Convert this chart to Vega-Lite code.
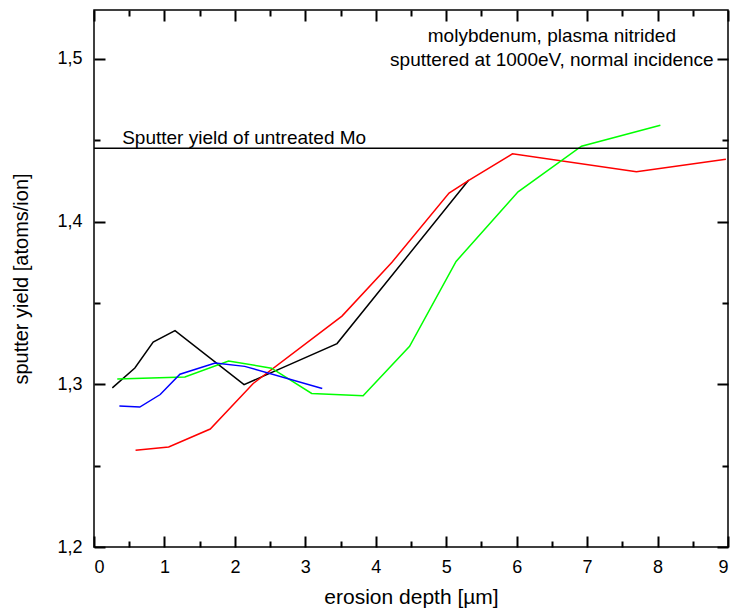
{
  "$schema": "https://vega.github.io/schema/vega-lite/v6.json",
  "autosize": "none",
  "width": 634,
  "height": 537,
  "padding": {"left": 94, "top": 10, "right": 12, "bottom": 64},
  "background": "white",
  "config": {
    "font": "Liberation Sans",
    "view": {"stroke": "black", "strokeWidth": 1.5}
  },
  "datasets": {
    "curves": [
      {"series": "black", "x": 0.26, "y": 1.2978},
      {"series": "black", "x": 0.58, "y": 1.310},
      {"series": "black", "x": 0.84, "y": 1.326},
      {"series": "black", "x": 1.15, "y": 1.333},
      {"series": "black", "x": 2.13, "y": 1.2998},
      {"series": "black", "x": 3.45, "y": 1.3250},
      {"series": "black", "x": 5.32, "y": 1.4255},
      {"series": "red", "x": 0.59, "y": 1.2594},
      {"series": "red", "x": 1.06, "y": 1.2615},
      {"series": "red", "x": 1.65, "y": 1.2725},
      {"series": "red", "x": 2.26, "y": 1.3005},
      {"series": "red", "x": 3.52, "y": 1.3419},
      {"series": "red", "x": 4.23, "y": 1.3750},
      {"series": "red", "x": 5.04, "y": 1.4175},
      {"series": "red", "x": 5.32, "y": 1.4253},
      {"series": "red", "x": 5.94, "y": 1.4416},
      {"series": "red", "x": 7.70, "y": 1.4306},
      {"series": "red", "x": 8.97, "y": 1.4383},
      {"series": "green", "x": 0.33, "y": 1.3033},
      {"series": "green", "x": 1.29, "y": 1.3045},
      {"series": "green", "x": 1.91, "y": 1.3143},
      {"series": "green", "x": 2.52, "y": 1.3099},
      {"series": "green", "x": 3.09, "y": 1.2944},
      {"series": "green", "x": 3.82, "y": 1.2930},
      {"series": "green", "x": 4.48, "y": 1.3233},
      {"series": "green", "x": 5.14, "y": 1.3755},
      {"series": "green", "x": 6.02, "y": 1.4183},
      {"series": "green", "x": 6.92, "y": 1.4463},
      {"series": "green", "x": 8.04, "y": 1.4592},
      {"series": "blue", "x": 0.36, "y": 1.2866},
      {"series": "blue", "x": 0.65, "y": 1.2860},
      {"series": "blue", "x": 0.94, "y": 1.2937},
      {"series": "blue", "x": 1.22, "y": 1.3062},
      {"series": "blue", "x": 1.72, "y": 1.3131},
      {"series": "blue", "x": 2.14, "y": 1.3110},
      {"series": "blue", "x": 3.24, "y": 1.2974}
    ],
    "reference": [
      {"label": "Sputter yield of untreated Mo", "x": 0.4, "y": 1.445, "ty": 1.4475}
    ],
    "notes": [
      {"text": "molybdenum, plasma nitrided", "x": 6.5, "y": 1.5106},
      {"text": "sputtered at 1000eV, normal incidence", "x": 6.5, "y": 1.4955}
    ]
  },
  "resolve": {"axis": {"x": "independent", "y": "independent"}},
  "layer": [
    {
      "data": {"name": "curves"},
      "mark": {"type": "line", "strokeWidth": 1.5},
      "encoding": {
        "x": {
          "field": "x", "type": "quantitative",
          "scale": {"domain": [0, 9], "nice": false, "zero": false},
          "axis": {"orient": "bottom", "grid": false, "domain": false, "ticks": true, "zindex": 1, "tickCount": 9, "offset": -11, "tickSize": 11, "tickColor": "#000", "tickOpacity": 1, "tickWidth": 2, "labelPadding": 11, "labelFontSize": 18, "labelColor": "black", "title": "erosion depth [µm]", "titleFontSize": 21, "titleFontWeight": "normal", "titleColor": "black", "titlePadding": 10}
        },
        "y": {
          "field": "y", "type": "quantitative",
          "scale": {"domain": [1.2, 1.53], "nice": false, "zero": false},
          "axis": {"orient": "left", "grid": false, "domain": false, "ticks": true, "zindex": 1, "tickCount": 4, "offset": -11, "tickSize": 11, "tickColor": "#000", "tickOpacity": 1, "tickWidth": 2, "labelPadding": 12, "labelFontSize": 18, "labelColor": "black", "labelExpr": "replace(format(datum.value, '.1f'), '.', ',')", "title": "sputter yield [atoms/ion]", "titleFontSize": 20, "titleFontWeight": "normal", "titleColor": "black", "titlePadding": 25}
        },
        "color": {
          "field": "series", "type": "nominal",
          "scale": {"domain": ["black", "red", "green", "blue"], "range": ["#000000", "#ff0000", "#00ff00", "#0000ff"]},
          "legend": null
        }
      }
    },
    {
      "data": {"name": "reference"},
      "mark": {"type": "rule", "color": "black", "strokeWidth": 1.5},
      "encoding": {
        "y": {
          "field": "y", "type": "quantitative",
          "scale": {"domain": [1.2, 1.53], "nice": false, "zero": false},
          "axis": {"orient": "right", "grid": false, "domain": false, "ticks": true, "zindex": 1, "values": [1.25, 1.35, 1.45], "offset": -6, "tickSize": 6, "tickColor": "#000", "tickOpacity": 1, "tickWidth": 2, "labels": false, "title": null}
        }
      }
    },
    {
      "data": {"name": "reference"},
      "mark": {"type": "text", "align": "left", "baseline": "alphabetic", "fontSize": 19, "color": "black"},
      "encoding": {
        "text": {"field": "label"},
        "x": {
          "field": "x", "type": "quantitative",
          "scale": {"domain": [0, 9], "nice": false, "zero": false},
          "axis": {"orient": "bottom", "grid": false, "domain": false, "ticks": true, "zindex": 1, "values": [0.5,1.5,2.5,3.5,4.5,5.5,6.5,7.5,8.5], "offset": -6, "tickSize": 6, "tickColor": "#000", "tickOpacity": 1, "tickWidth": 2, "labels": false, "title": null}
        },
        "y": {
          "field": "ty", "type": "quantitative",
          "scale": {"domain": [1.2, 1.53], "nice": false, "zero": false},
          "axis": {"orient": "left", "grid": false, "domain": false, "ticks": true, "zindex": 1, "values": [1.25, 1.35, 1.45], "offset": -6, "tickSize": 6, "tickColor": "#000", "tickOpacity": 1, "tickWidth": 2, "labels": false, "title": null}
        }
      }
    },
    {
      "data": {"name": "notes"},
      "mark": {"type": "text", "align": "center", "baseline": "alphabetic", "fontSize": 19, "color": "black"},
      "encoding": {
        "text": {"field": "text"},
        "x": {
          "field": "x", "type": "quantitative",
          "scale": {"domain": [0, 9], "nice": false, "zero": false},
          "axis": {"orient": "top", "grid": false, "domain": false, "ticks": true, "zindex": 1, "tickCount": 9, "offset": -11, "tickSize": 11, "tickColor": "#000", "tickOpacity": 1, "tickWidth": 2, "labels": false, "title": null}
        },
        "y": {
          "field": "y", "type": "quantitative",
          "scale": {"domain": [1.2, 1.53], "nice": false, "zero": false},
          "axis": {"orient": "right", "grid": false, "domain": false, "ticks": true, "zindex": 1, "tickCount": 4, "offset": -11, "tickSize": 11, "tickColor": "#000", "tickOpacity": 1, "tickWidth": 2, "labels": false, "title": null}
        }
      }
    },
    {
      "data": {"name": "notes"},
      "mark": {"type": "text", "opacity": 0},
      "encoding": {
        "text": {"field": "text"},
        "x": {
          "field": "x", "type": "quantitative",
          "scale": {"domain": [0, 9], "nice": false, "zero": false},
          "axis": {"orient": "top", "grid": false, "domain": false, "ticks": true, "zindex": 1, "values": [0.5,1.5,2.5,3.5,4.5,5.5,6.5,7.5,8.5], "offset": -6, "tickSize": 6, "tickColor": "#000", "tickOpacity": 1, "tickWidth": 2, "labels": false, "title": null}
        }
      }
    }
  ]
}
